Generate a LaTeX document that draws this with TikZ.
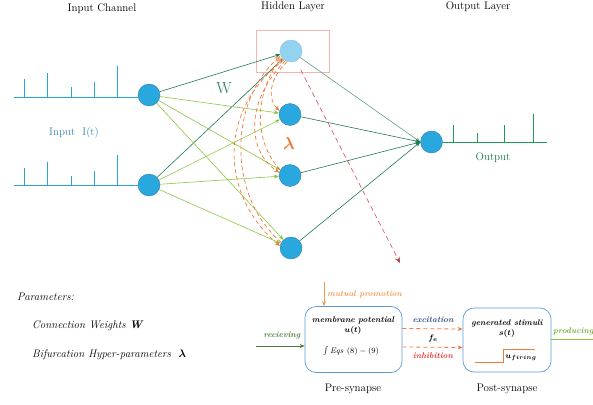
\documentclass[tikz,border=0pt]{standalone}
\usepackage{amsmath,amssymb}
\usetikzlibrary{arrows.meta}
\definecolor{nodeblue}{HTML}{29A8E0}
\definecolor{nodeedge}{HTML}{3C7FA6}
\definecolor{lightnode}{HTML}{93D3EF}
\definecolor{dkgreen}{HTML}{1F7A52}
\definecolor{ltgreen}{HTML}{8CC63F}
\definecolor{spikeblue}{HTML}{2AA5DC}
\definecolor{outgreen}{HTML}{1E9A55}
\definecolor{lamorange}{HTML}{F07A3A}
\definecolor{salmon}{HTML}{F4A27E}
\definecolor{reddash}{HTML}{E05A68}
\definecolor{pinkbox}{HTML}{F4B4B4}
\definecolor{boxblue}{HTML}{5B9BD5}
\definecolor{olive}{HTML}{4E7D3A}
\definecolor{navy}{HTML}{2F4B7C}
\definecolor{inhred}{HTML}{E8302A}
\definecolor{mporange}{HTML}{F09A50}
\definecolor{labelblue}{HTML}{3489B5}
\begin{document}
\begin{tikzpicture}[x=1pt,y=-1pt,
  neuron/.style={circle, draw=nodeedge, fill=nodeblue, line width=0.4pt, minimum size=22pt, inner sep=0pt},
  tip/.style={-{Stealth[length=5pt,width=4pt]}},
  edark/.style={draw=dkgreen, line width=0.6pt, tip},
  elight/.style={draw=ltgreen, line width=0.6pt, tip},
  lamarc/.style={draw=lamorange, dash pattern=on 4pt off 3pt, line width=0.7pt, tip},
  lamback/.style={draw=lamorange, dash pattern=on 4pt off 3pt, line width=0.7pt, -{Stealth[length=7pt,width=6pt,color=salmon]}},
  spikes/.style={draw=spikeblue, line width=0.9pt},
  ospikes/.style={draw=outgreen, line width=0.9pt},
  head/.style={font=\fontsize{11}{13}\selectfont, inner sep=0pt},
  synbox/.style={draw=boxblue, line width=0.7pt, rounded corners=11pt, minimum width=97pt, minimum height=66pt},
  small/.style={font=\fontsize{8.3}{10}\selectfont\bfseries\itshape, inner sep=0pt},
  flow/.style={line width=0.9pt, -{Stealth[length=5pt,width=4pt]}},
  exc/.style={draw=lamorange, dash pattern=on 4pt off 3pt, line width=0.8pt, -{Stealth[length=5pt,width=4pt]}},
  param/.style={font=\fontsize{11}{13}\selectfont\itshape, anchor=west, inner sep=0pt}
]
\useasboundingbox (0,0) rectangle (593,404);
\clip (0,0) rectangle (593,404);

% headings
\node[head] (hin) at (102,9) {Input Channel};
\node[head] (hhid) at (293,7) {Hidden Layer};
\node[head] (hout) at (478,7) {Output Layer};

% pink highlight box
\node[draw=pinkbox, line width=0.8pt, minimum width=73pt, minimum height=42pt, inner sep=0pt] (hbox) at (292.5,51) {};

% neurons
\node[neuron] (I1) at (149,95) {};
\node[neuron] (I2) at (149,185) {};
\node[neuron, fill=lightnode, draw=lightnode!80!nodeedge] (H1) at (291,51) {};
\node[neuron] (H2) at (290,114.5) {};
\node[neuron] (H3) at (290,175.5) {};
\node[neuron] (H4) at (291,248) {};
\node[neuron] (O) at (431.5,142) {};

% input spike trains
\coordinate (b1) at (14,97);
\coordinate (b2) at (14,185);
\draw[spikes] (b1) -- (I1.west |- b1);
\draw[spikes] (b2) -- (I2.west |- b2);
\foreach \x/\t in {24/79,47/73,71/87,94/82,117/66} \draw[spikes] (\x,97) -- (\x,\t);
\foreach \x/\t in {24/168,47/162,71/176,94/171,117/155} \draw[spikes] (\x,185) -- (\x,\t);
\node[font=\fontsize{11}{13}\selectfont, text=labelblue, inner sep=0pt] (lin) at (74,133) {Input\ \ I(t)};

% output spike train
\coordinate (ob) at (547,142);
\draw[ospikes] (O.east) -- (ob);
\foreach \x/\t in {453/125,477/133,504/125,533/114} \draw[ospikes] (\x,142) -- (\x,\t);
\node[font=\fontsize{11}{13}\selectfont, text=outgreen!80!black, inner sep=0pt] (lout) at (493,158) {Output};

% input -> hidden
\draw[edark] (I1) -- (H1);
\draw[edark] (I2) -- (H1);
\draw[elight] (I1) -- (H2);
\draw[elight] (I1) -- (H3);
\draw[elight] (I1) -- (H4);
\draw[elight] (I2) -- (H2);
\draw[elight] (I2) -- (H3);
\draw[elight] (I2) -- (H4);

% hidden -> output
\draw[edark, draw=dkgreen!70] (H1) -- (O.west);
\draw[edark] (H2) -- (O.west);
\draw[edark] (H3) -- (O.west);
\draw[edark] (H4) -- (O.west);

% labels W and lambda
\node[font=\fontsize{16}{18}\selectfont, text=dkgreen, inner sep=0pt] (W) at (224,88) {W};
\node[font=\fontsize{17}{19}\selectfont, text=lamorange, inner sep=0pt] (lam) at (289,143) {$\boldsymbol{\lambda}$};

% bifurcation arcs
\draw[lamarc] (H1.250) .. controls (268,80) and (268,100) .. (H2.160);
\draw[lamarc] (H1.240) .. controls (246,100) and (246,150) .. (H3.165);
\draw[lamarc] (H1.232) .. controls (217,110) and (220,195) .. (H4.170);
\draw[lamback] (H3.150) .. controls (252,140) and (256,92) .. (H1.215);
\draw[lamback] (H4.150) .. controls (226,195) and (230,100) .. (H1.205);

% red dashed pointer
\coordinate (rend) at (400,263);
\draw[draw=reddash, dash pattern=on 5pt off 3.5pt, line width=0.7pt, shorten <=10pt, -{Stealth[length=6pt,width=5pt,color=reddash!80!black]}] (H1) -- (rend);

% parameters text
\node[param] (p0) at (17,297) {Parameters:};
\node[param] (p1) at (32,326) {Connection Weights \textbf{\textit{W}}};
\node[param] (p2) at (32,355) {Bifurcation Hyper-parameters\ \ $\boldsymbol{\lambda}$};

% synapse boxes
\node[synbox] (pre) at (353.5,339.5) {};
\node[synbox, minimum width=88pt, minimum height=64pt] (post) at (507,340) {};

\node[small] (mp1) at (353,320) {membrane potential};
\node[small] (mp2) at (353,330) {$\boldsymbol{u(t)}$};
\node[font=\fontsize{8}{10}\selectfont, inner sep=0pt] (eq) at (351,351) {$\int \mathit{Eqs}\ (8)-(9)$};

\node[small] (gs1) at (507,323) {generated stimuli};
\node[small] (gs2) at (507,333) {$\boldsymbol{s(t)}$};
\coordinate (st0) at (475,362);
\coordinate (st3) at (535,349);
\draw[draw=lamorange, line width=0.9pt] (st0) -- (503,362) -- (503,349) -- (st3);
\node[font=\fontsize{8}{10}\selectfont, inner sep=0pt] (uf) at (521,358) {$\boldsymbol{u_{firing}}$};

\node[head] (lpre) at (353,389) {Pre-synapse};
\node[head] (lpost) at (507,389) {Post-synapse};

% mutual promotion
\coordinate (mp) at (324,282);
\draw[flow, draw=mporange] (mp) -- (mp |- pre.north);
\node[small, text=mporange, anchor=west] (mpl) at (327,294) {mutual promotion};

% receiving
\coordinate (rc) at (256,346);
\draw[flow, draw=olive] (rc) -- (pre.west |- rc);
\node[small, text=olive] (rcl) at (282,336) {recieving};

% excitation / inhibition
\draw[exc] ([yshift=11pt]pre.east) -- ([yshift=11pt]post.west);
\draw[exc] ([yshift=-7.5pt]pre.east) -- ([yshift=-7.5pt]post.west);
\node[small, text=navy] (exl) at (433,320) {excitation};
\node[font=\fontsize{8}{10}\selectfont, inner sep=0pt] (fe) at (433,338) {$\boldsymbol{f_e}$};
\node[small, text=inhred] (inl) at (433,356) {inhibition};

% producing
\coordinate (pr) at (600,339);
\draw[flow, draw=ltgreen] ([yshift=1pt]post.east) -- (pr);
\node[small, text=ltgreen!85!black, anchor=west] (prl) at (553,331) {producing};
\end{tikzpicture}
\end{document}
